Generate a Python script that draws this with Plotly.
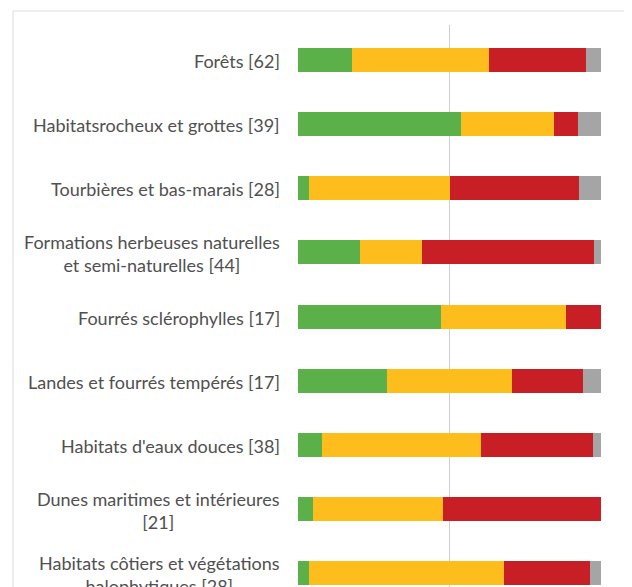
import plotly.graph_objects as go

categories = [
    "Forêts [62]",
    "Habitatsrocheux et grottes [39]",
    "Tourbières et bas-marais [28]",
    "Formations herbeuses naturelles<br>et semi-naturelles [44]",
    "Fourrés sclérophylles [17]",
    "Landes et fourrés tempérés [17]",
    "Habitats d'eaux douces [38]",
    "Dunes maritimes et intérieures<br>[21]",
    "Habitats côtiers et végétations<br>halophytiques [28]",
]
favorable = [17.7, 53.8, 3.6, 20.5, 47.1, 29.4, 7.9, 4.8, 3.6]
inadequate = [45.2, 30.8, 46.4, 20.5, 41.2, 41.2, 52.6, 42.9, 64.3]
bad = [32.3, 7.7, 42.9, 56.8, 11.8, 23.5, 36.8, 52.4, 28.6]
unknown = [4.8, 7.7, 7.1, 2.3, 0.0, 5.9, 2.6, 0.0, 3.6]

series = [
    ("Favorable", favorable, "#5cb04a"),
    ("Défavorable inadéquat", inadequate, "#fdbd1c"),
    ("Défavorable mauvais", bad, "#c71f25"),
    ("Inconnu", unknown, "#a5a5a5"),
]

# the page body has an 8px default margin: work in figure pixels = window - 8
OFF = 8
W, H = 632 - OFF, 587 - OFF
L, R, T, B = 298 - OFF, 31, 25 - OFF, 0
plot_w = W - L - R
plot_h = H - T - B
SPACING = 64.15          # px between bar centres
FIRST = 60 - OFF         # px of first bar centre (figure coords)

idx = list(range(len(categories)))
fig = go.Figure()
for name, vals, col in series:
    fig.add_trace(go.Bar(
        x=vals, y=idx, orientation="h", name=name,
        marker=dict(color=col, line=dict(width=0)),
        width=0.375, showlegend=False,
    ))

font = dict(family="Lato, 'Open Sans', sans-serif", size=18, color="#505050")
annotations = []
for i, lab in enumerate(categories):
    annotations.append(dict(
        x=(282 - OFF - L) / plot_w, xref="paper", y=i, yref="y",
        text=lab, showarrow=False, xanchor="right", yanchor="middle",
        align="center", font=font, yshift=-1,
    ))

top_val = -(FIRST - T) / SPACING
bottom_val = (H - FIRST) / SPACING

fig.update_layout(
    width=W, height=H,
    margin=dict(l=L, r=R, t=T, b=B, pad=0),
    barmode="stack",
    bargap=0,
    paper_bgcolor="white",
    plot_bgcolor="white",
    annotations=annotations,
    shapes=[dict(
        type="rect", xref="paper", yref="paper",
        x0=(13 - OFF - L) / plot_w, x1=(700 - L) / plot_w,
        y0=-0.2, y1=1 + 14 / plot_h,
        line=dict(color="#e8e8e8", width=1.5), layer="below",
    )],
    xaxis=dict(
        range=[0, 100], tickvals=[0, 50, 100], showticklabels=False,
        showgrid=True, gridcolor="#cfcfcf", gridwidth=1,
        zeroline=False, showline=False, fixedrange=True,
    ),
    yaxis=dict(
        range=[bottom_val, top_val],
        showticklabels=False, showgrid=False, zeroline=False, showline=False,
        fixedrange=True,
    ),
)

fig.write_html("out.html")
